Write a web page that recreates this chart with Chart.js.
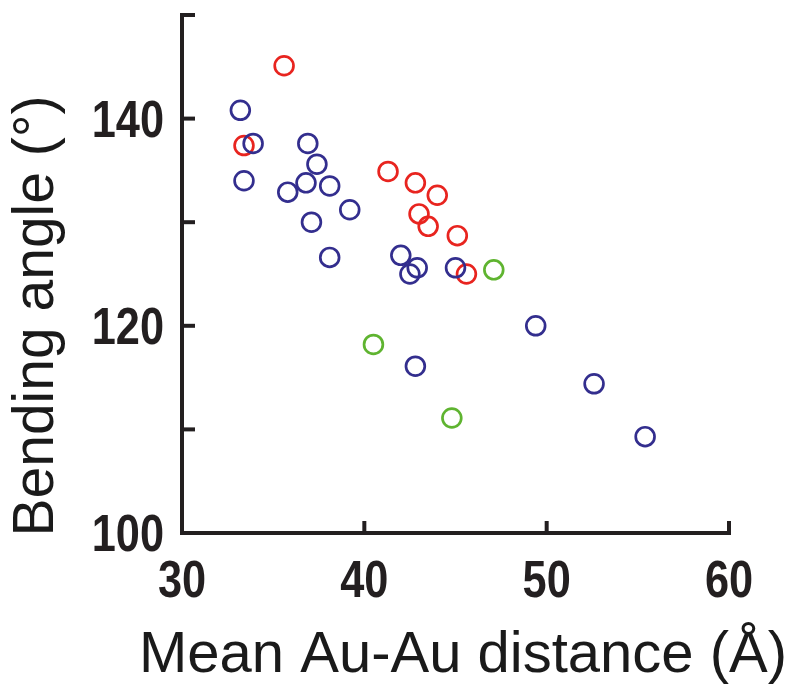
<!DOCTYPE html>
<html>
<head>
<meta charset="utf-8">
<script src="https://cdn.jsdelivr.net/npm/chart.js@4/dist/chart.umd.min.js"></script>
<style>
  html, body { margin: 0; padding: 0; background: #fff; }
  #wrap { width: 798px; height: 695px; }
</style>
</head>
<body>
<div id="wrap"><canvas id="myChart" width="798" height="695"></canvas></div>
<script>
// values
const blueX = [33.2, 33.9, 33.4, 36.9, 37.4, 36.8, 35.8, 38.1, 39.2, 37.1, 38.1, 42.0, 42.9, 42.5, 45.0, 49.4, 52.6, 55.4, 42.8];
const blueY = [140.8, 137.6, 134.0, 137.6, 135.6, 133.8, 132.9, 133.5, 131.2, 130.0, 126.6, 126.8, 125.6, 125.0, 125.6, 120.0, 114.4, 109.3, 116.1];
const redX = [35.6, 33.4, 41.3, 42.8, 44.0, 43.0, 43.5, 45.1, 45.6];
const redY = [145.1, 137.4, 134.9, 133.8, 132.6, 130.8, 129.6, 128.7, 125.0];
const greenX = [47.1, 44.8, 40.5];
const greenY = [125.4, 111.1, 118.2];

const xTickLabels = [30, 40, 50, 60];
const yTickLabels = [100, 120, 140];
const xTitle = 'Mean Au-Au distance (Å)';
const yTitle = 'Bending angle (°)';

function toPoints(xs, ys) {
  return xs.map((x, i) => ({ x: x, y: ys[i] }));
}

const axisColor = '#231f20';
const textColor = '#1a1a1a';

function ring(label, color, xs, ys) {
  return {
    label: label,
    data: toPoints(xs, ys),
    pointStyle: 'circle',
    pointRadius: 9.4,
    pointHoverRadius: 9.4,
    pointBorderWidth: 2.7,
    borderColor: color,
    backgroundColor: 'rgba(0,0,0,0)',
    showLine: false
  };
}

// axis lines, inward ticks, narrow bold tick labels and the two titles
const axesPlugin = {
  id: 'axes',
  afterDatasetsDraw(chart) {
    const ctx = chart.ctx;
    const xs = chart.scales.x, ys = chart.scales.y;
    const a = chart.chartArea;
    ctx.save();
    ctx.strokeStyle = axisColor;
    ctx.lineWidth = 4;
    ctx.lineCap = 'square';
    ctx.beginPath();
    ctx.moveTo(a.left, a.top);
    ctx.lineTo(a.left, a.bottom);
    ctx.lineTo(a.right, a.bottom);
    ctx.stroke();
    ctx.lineCap = 'butt';
    ys.ticks.forEach(t => {
      const y = ys.getPixelForValue(t.value);
      ctx.beginPath();
      ctx.moveTo(a.left, y);
      ctx.lineTo(a.left + 13, y);
      ctx.stroke();
    });
    xs.ticks.forEach(t => {
      const x = xs.getPixelForValue(t.value);
      ctx.beginPath();
      ctx.moveTo(x, a.bottom);
      ctx.lineTo(x, a.bottom - 12);
      ctx.stroke();
    });

    // tick labels: bold, squeezed to look condensed
    ctx.fillStyle = axisColor;
    ctx.font = "bold 51px 'Liberation Sans', Arial, sans-serif";
    ctx.textBaseline = 'alphabetic';
    ctx.textAlign = 'right';
    yTickLabels.forEach(v => {
      ctx.save();
      ctx.translate(a.left - 18, ys.getPixelForValue(v) + 18);
      ctx.scale(0.85, 1);
      ctx.fillText(String(v), 0, 0);
      ctx.restore();
    });
    ctx.textAlign = 'center';
    xTickLabels.forEach(v => {
      ctx.save();
      ctx.translate(xs.getPixelForValue(v), a.bottom + 64);
      ctx.scale(0.85, 1);
      ctx.fillText(String(v), 0, 0);
      ctx.restore();
    });

    // axis titles
    ctx.fillStyle = textColor;
    ctx.font = "58px 'Liberation Sans', Arial, sans-serif";
    ctx.textAlign = 'center';
    ctx.fillText(xTitle, 463, 672);
    ctx.font = "57px 'Liberation Sans', Arial, sans-serif";
    ctx.save();
    ctx.translate(53, 316);
    ctx.rotate(-Math.PI / 2);
    ctx.fillText(yTitle, 0, 0);
    ctx.restore();
    ctx.restore();
  }
};

const config = {
  type: 'scatter',
  data: {
    datasets: [
      ring('blue', '#332e8e', blueX, blueY),
      ring('red', '#e8241f', redX, redY),
      ring('green', '#5fb430', greenX, greenY)
    ]
  },
  options: {
    responsive: false,
    animation: false,
    layout: { padding: { left: 0, top: 15, right: 69, bottom: 0 } },
    plugins: { legend: { display: false }, tooltip: { enabled: false } },
    scales: {
      x: {
        type: 'linear',
        min: 30,
        max: 60,
        afterFit(scale) {
          scale.height = 162;
          scale.paddingLeft = 0;
          scale.paddingRight = 0;
        },
        grid: { display: false },
        border: { display: false },
        ticks: { stepSize: 10, display: false }
      },
      y: {
        type: 'linear',
        min: 100,
        max: 150,
        afterFit(scale) {
          scale.width = 182;
          scale.paddingTop = 0;
          scale.paddingBottom = 0;
        },
        grid: { display: false },
        border: { display: false },
        ticks: { stepSize: 10, display: false }
      }
    }
  },
  plugins: [axesPlugin]
};

const myChart = new Chart(document.getElementById('myChart'), config);
</script>
</body>
</html>
